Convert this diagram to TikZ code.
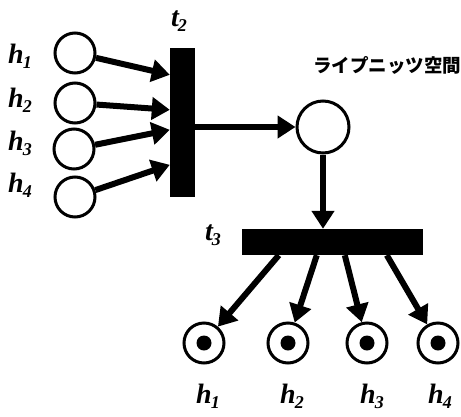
\documentclass[tikz,border=0pt]{standalone}
\usepackage{fontspec}
\setmainfont{Liberation Serif}
\newfontfamily\jpfont{Noto Sans CJK JP}
\usetikzlibrary{arrows.meta,calc}
\newcommand\pnlab[2]{{\fontsize{28}{30}\selectfont\bfseries\itshape #1\kern-1pt\raisebox{-5pt}{\fontsize{18}{18}\selectfont #2}}}
\begin{document}
\begin{tikzpicture}[x=1pt,y=-1pt,
  place/.style={circle,draw,line width=3pt,minimum size=40pt,inner sep=0pt},
  bigplace/.style={place,minimum size=52pt},
  bar/.style={rectangle,fill=black,inner sep=0pt},
  tok/.style={circle,fill=black,minimum size=15pt,inner sep=0pt},
  arr/.style={line width=6pt,-{Triangle[length=18pt,width=22pt]}},
  lab/.style={inner sep=0pt}]
\useasboundingbox (0,0) rectangle (461,416);
% left places
\node[place] (p1) at (75,53) {};
\node[place] (p2) at (75,103) {};
\node[place] (p3) at (74,149) {};
\node[place] (p4) at (75,197) {};
\node[lab] (l1) at (20,56) {\pnlab{h}{1}};
\node[lab] (l2) at (20,100) {\pnlab{h}{2}};
\node[lab] (l3) at (20,143) {\pnlab{h}{3}};
\node[lab] (l4) at (20,185) {\pnlab{h}{4}};
% t2
\node[bar,minimum width=25pt,minimum height=149pt] (t2) at (182.5,122.5) {};
\node[lab] (t2l) at (179,21) {\pnlab{t}{2}};
\coordinate (a1) at ($(t2.north west)+(0,27)$);
\coordinate (a2) at ($(t2.north west)+(0,62)$);
\coordinate (a3) at ($(t2.north west)+(0,82)$);
\coordinate (a4) at ($(t2.north west)+(0,117)$);
\draw[arr] (p1) -- (a1);
\draw[arr] (p2) -- (a2);
\draw[arr] (p3) -- (a3);
\draw[arr] (p4) -- (a4);
% middle place
\node[bigplace] (m) at (323,127) {};
\node[lab] (jp) at (387,65) {\jpfont\bfseries\fontsize{18.5}{20}\selectfont ライプニッツ空間};
\draw[arr] (t2.east |- m) -- (m);
% t3
\node[bar,minimum width=181pt,minimum height=26pt] (t3) at (332.5,242) {};
\node[lab] (t3l) at (213,235) {\pnlab{t}{3}};
\draw[arr] (m) -- (m |- t3.north);
% bottom places
\node[place] (q1) at (204,343) {};
\node[place] (q2) at (288,343) {};
\node[place] (q3) at (367,343) {};
\node[place] (q4) at (438,343) {};
\node[tok] (k1) at (q1) {};
\node[tok] (k2) at (q2) {};
\node[tok] (k3) at (q3) {};
\node[tok] (k4) at (q4) {};
\node[lab] (b1) at (208,396) {\pnlab{h}{1}};
\node[lab] (b2) at (292,396) {\pnlab{h}{2}};
\node[lab] (b3) at (372,396) {\pnlab{h}{3}};
\node[lab] (b4) at (440,396) {\pnlab{h}{4}};
\coordinate (s1) at ($(t3.south west)+(37,0)$);
\coordinate (s2) at ($(t3.south west)+(75,0)$);
\coordinate (s3) at ($(t3.south west)+(103,0)$);
\coordinate (s4) at ($(t3.south west)+(145,0)$);
\draw[arr] (s1) -- (q1);
\draw[arr] (s2) -- (q2);
\draw[arr] (s3) -- (q3);
\draw[arr] (s4) -- (q4);
\end{tikzpicture}
\end{document}
